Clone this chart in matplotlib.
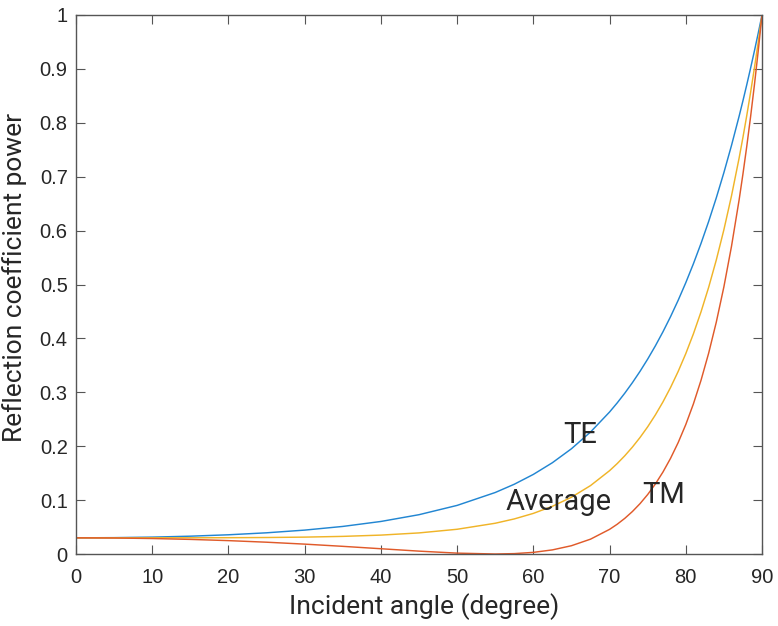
import matplotlib
matplotlib.use("Agg")
import matplotlib.pyplot as plt

angle = [0, 5, 10, 15, 20, 25, 30, 35, 40, 45, 50, 55, 57.5, 60, 62.5, 65, 67.5, 70, 71, 72, 73, 74,
         75, 76, 77, 78, 79, 80, 81, 82, 83, 84, 85, 86, 87, 87.5, 88, 88.5, 89, 89.5, 90]
te = [0.0300, 0.03033, 0.03132, 0.03305, 0.03565, 0.03932, 0.04433, 0.05114, 0.06036, 0.07292,
      0.09016, 0.11409, 0.12943, 0.14766, 0.16937, 0.19527, 0.22627, 0.26342, 0.28027, 0.29841,
      0.31794, 0.33894, 0.36156, 0.38590, 0.41210, 0.44030, 0.47065, 0.50331, 0.53846, 0.57626,
      0.61692, 0.66063, 0.70760, 0.75810, 0.81232, 0.84093, 0.87054, 0.90123, 0.93302, 0.96591, 1.0]
tm = [0.0300, 0.02968, 0.02871, 0.02709, 0.02481, 0.02188, 0.01832, 0.01422, 0.00976, 0.00532,
      0.00161, 0.0000026, 0.000711, 0.00303, 0.00762, 0.01537, 0.02752, 0.04571, 0.05518, 0.06615,
      0.07884, 0.09346, 0.11031, 0.12969, 0.15192, 0.17743, 0.20665, 0.24013, 0.27847, 0.32232,
      0.37252, 0.42994, 0.49569, 0.57098, 0.65725, 0.70503, 0.75619, 0.81095, 0.86967, 0.93258, 1.0]
avg = [(a + b) / 2 for a, b in zip(te, tm)]

xticks = [0, 10, 20, 30, 40, 50, 60, 70, 80, 90]
yticks = [0, 0.1, 0.2, 0.3, 0.4, 0.5, 0.6, 0.7, 0.8, 0.9, 1]
ytick_labels = ["0", "0.1", "0.2", "0.3", "0.4", "0.5", "0.6", "0.7", "0.8", "0.9", "1"]

TXT = ['Roboto', 'DejaVu Sans']
TICK = ['Liberation Sans', 'DejaVu Sans']

fig = plt.figure(figsize=(7.78, 6.26), dpi=100)
ax = fig.add_axes([76/778, 1 - 554/626, (762 - 76)/778, (554 - 15)/626])

ax.plot(angle, te, color='#2286d2', lw=1.05)
ax.plot(angle, avg, color='#F0B428', lw=1.05)
ax.plot(angle, tm, color='#E05A2A', lw=1.05)

ax.text(63.9, 0.206, "TE", fontsize=21, color='#262626', family=TXT)
ax.text(56.4, 0.0816, "Average", fontsize=21, color='#262626', family=TXT)
ax.text(74.3, 0.0946, "TM", fontsize=21, color='#262626', family=TXT)

ax.set_xlim(0, 90)
ax.set_ylim(0, 1)
ax.set_xticks(xticks)
ax.set_yticks(yticks)
ax.set_yticklabels(ytick_labels)
ax.tick_params(direction='in', length=6.5, width=0.8, colors='#555555', labelcolor='#262626',
               labelsize=14.5, top=True, right=True)
ax.tick_params(axis='x', pad=10)
ax.tick_params(axis='y', pad=6)
for lab in ax.get_xticklabels() + ax.get_yticklabels():
    lab.set_family(TICK)
for s in ax.spines.values():
    s.set_color('#555555')
    s.set_linewidth(1.0)
ax.set_xlabel("Incident angle (degree)", fontsize=19, color='#262626', family=TXT)
ax.set_ylabel("Reflection coefficient power", fontsize=19, color='#262626', family=TXT)
ax.xaxis.set_label_coords(0.507, -0.072)
ax.yaxis.set_label_coords(-0.0714, 0.513)

fig.savefig("out.png", dpi=100)
